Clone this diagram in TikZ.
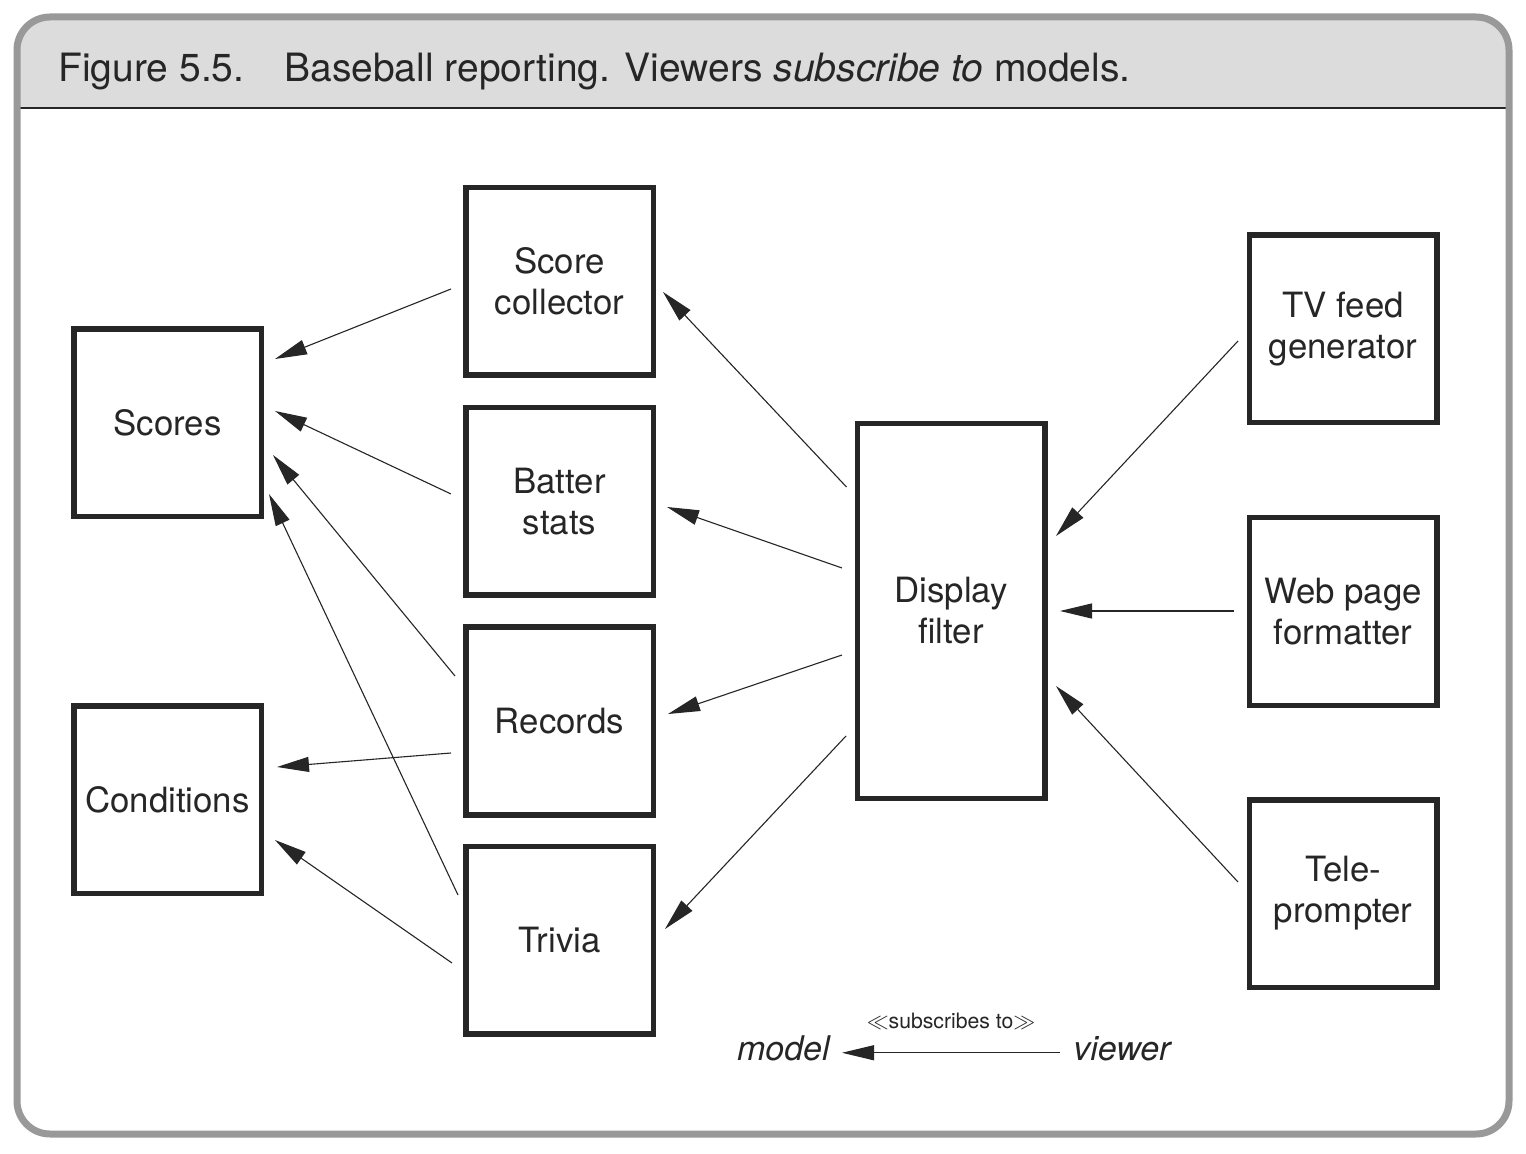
\documentclass[tikz,border=0pt]{standalone}
\usepackage{fontspec}
\setmainfont{TeX Gyre Heros}
\usetikzlibrary{arrows.meta,calc}
\definecolor{ink}{HTML}{262626}
\definecolor{framegray}{HTML}{999999}
\definecolor{headgray}{HTML}{DCDCDC}

\begin{document}
\begin{tikzpicture}[x=0.5pt,y=-0.5pt,
  box/.style={draw=ink, text=ink, line width=2.75pt, minimum width=93.75pt, minimum height=93.75pt, inner sep=0pt, align=center, font=\fontsize{17.4}{20.5}\selectfont},
  arr/.style={draw=ink, line width=0.55pt, -{Triangle[length=16pt,width=7.5pt]}},
  legend/.style={text=ink, inner sep=0pt, font=\fontsize{17}{20}\selectfont\itshape}]
 \useasboundingbox (0,0) rectangle (1526,1154);
 \fill[white] (0,0) rectangle (1526,1154);
 \begin{scope}
  \clip (0,0) rectangle (1526,108);
  \fill[headgray, rounded corners=16.5pt] (17,17) rectangle (1509,1134);
 \end{scope}
 \draw[ink, line width=1pt] (17,108) -- (1509,108);
 \draw[framegray, line width=3.5pt, rounded corners=16.5pt] (17,17) rectangle (1509,1134);

 \node[anchor=base west, text=ink, inner sep=0pt, font=\fontsize{19.5}{23}\selectfont] (title) at (58,82) {Figure 5.5.\hspace{20pt}Baseball reporting. Viewers \textit{subscribe to} models.};

 % models
 \node[box] (scores) at (167.5,423) {Scores};
 \node[box] (cond) at (167.5,799.5) {Conditions};

 % viewers of the models
 \node[box] (scoll) at (559.5,281.5) {Score\\collector};
 \node[box] (batter) at (559.5,501.5) {Batter\\stats};
 \node[box] (records) at (559.5,721) {Records};
 \node[box] (trivia) at (559.5,940) {Trivia};

 \node[box, minimum height=187.25pt] (filter) at (951,611) {Display\\filter};

 \node[box] (tvfeed) at (1343,329) {TV feed\\generator};
 \node[box] (webpage) at (1343,611.5) {Web page\\formatter};
 \node[box] (tele) at (1343,893.5) {Tele-\\prompter};

 \draw[arr] ($(scoll.west)+(-12,7.5)$) -- ($(scores.east)+(11,-64)$);
 \draw[arr] ($(batter.west)+(-12,-7.5)$) -- ($(scores.east)+(11,-12)$);
 \draw[arr] ($(records.west)+(-8,-45)$) -- ($(scores.east)+(9,32)$);
 \draw[arr] ($(trivia.west)+(-5,-45)$) -- ($(scores.east)+(5,71)$);
 \draw[arr] ($(records.west)+(-12,32)$) -- ($(cond.east)+(13,-32.5)$);
 \draw[arr] ($(trivia.west)+(-11,23)$) -- ($(cond.east)+(11,40.5)$);

 \draw[arr] ($(filter.west)+(-8,-124)$) -- ($(scoll.east)+(7,10.5)$);
 \draw[arr] ($(filter.west)+(-12.5,-43)$) -- ($(batter.east)+(11,5.5)$);
 \draw[arr] ($(filter.west)+(-12.5,44)$) -- ($(records.east)+(12,-7)$);
 \draw[arr] ($(filter.west)+(-8.5,125)$) -- ($(trivia.east)+(9,-11)$);

 \draw[arr] ($(tvfeed.west)+(-8.5,12)$) -- ($(filter.east)+(8.5,-75)$);
 \draw[arr] ($(webpage.west)+(-12.5,-0.5)$) -- ($(filter.east)+(12.5,0)$);
 \draw[arr] ($(tele.west)+(-8.5,-11.5)$) -- ($(filter.east)+(8.5,75)$);

 % key
 \node[legend, anchor=base east] (model) at (830,1060) {model};
 \node[legend, anchor=base west] (viewer) at (1073,1060) {viewer};
 \draw[arr] ([xshift=-6.5pt,yshift=1pt]viewer.mid west) -- ([xshift=6pt,yshift=1pt]model.mid east);
 \node[text=ink, inner sep=0pt, font=\fontsize{10.6}{12}\selectfont] (stereo) at (951,1021) {$\ll$subscribes to$\gg$};
\end{tikzpicture}
\end{document}
